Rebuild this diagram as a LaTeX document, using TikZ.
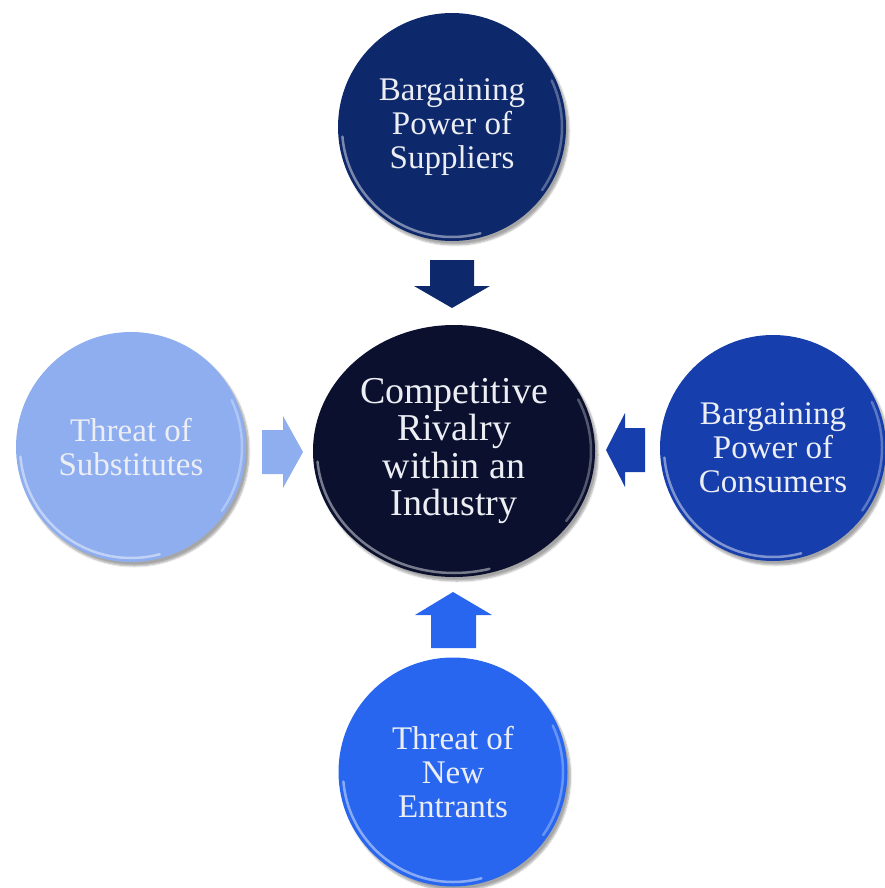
\documentclass[tikz,border=0pt]{standalone}
\usepackage{fontspec}
\setmainfont{Liberation Serif}
\usetikzlibrary{shapes.geometric,shadows.blur}
\definecolor{supcol}{RGB}{14,40,108}
\definecolor{corecol}{RGB}{10,16,46}
\definecolor{subcol}{RGB}{142,174,240}
\definecolor{concol}{RGB}{22,62,172}
\definecolor{entcol}{RGB}{40,102,240}
\definecolor{txtcol}{RGB}{236,238,244}
\tikzset{
  ball/.style={circle,minimum size=#1,inner sep=0pt,align=center,text=txtcol,
    font=\fontsize{33}{34}\selectfont,
    blur shadow={shadow xshift=3pt,shadow yshift=-4pt,shadow blur steps=6,shadow opacity=35}},
  core/.style={ellipse,minimum width=282,minimum height=252,inner sep=0pt,align=center,
    text=txtcol,font=\fontsize{38}{37.5}\selectfont,
    blur shadow={shadow xshift=3pt,shadow yshift=-4pt,shadow blur steps=6,shadow opacity=35}},
  rim/.style={white,line width=2.5pt,opacity=0.45,line cap=round},
}
\begin{document}
\begin{tikzpicture}[x=1pt,y=1pt]
\useasboundingbox (0,0) rectangle (885,-888);
% the five balls
\node[ball=228,fill=supcol] (sup) at (452,-127) {Bargaining\\Power of\\Suppliers};
\node[core,fill=corecol] (core) at (454,-451) {Competitive\\Rivalry\\within an\\Industry};
\node[ball=230,fill=subcol] (sub) at (131,-447) {Threat of\\Substitutes};
\node[ball=226,fill=concol] (con) at (773,-448) {Bargaining\\Power of\\Consumers};
\node[ball=229,fill=entcol] (ent) at (453,-772) {Threat of\\New\\Entrants};
% glossy rims
\draw[rim] ([shift={(185:110)}]sup.center) arc (185:285:110);
\draw[rim] ([shift={(185:111)}]sub.center) arc (185:285:111);
\draw[rim] ([shift={(185:109)}]con.center) arc (185:285:109);
\draw[rim] ([shift={(185:110)}]ent.center) arc (185:285:110);
\draw[rim] ([shift={(185:137 and 122)}]core.center) arc [start angle=185,end angle=285,x radius=137,y radius=122];
\draw[rim,opacity=0.3] ([shift={(-35:110)}]sup.center) arc (-35:25:110);
\draw[rim,opacity=0.3] ([shift={(-35:111)}]sub.center) arc (-35:25:111);
\draw[rim,opacity=0.3] ([shift={(-35:109)}]con.center) arc (-35:25:109);
\draw[rim,opacity=0.3] ([shift={(-35:110)}]ent.center) arc (-35:25:110);
\draw[rim,opacity=0.3] ([shift={(-35:137 and 122)}]core.center) arc [start angle=-35,end angle=25,x radius=137,y radius=122];
% block arrows
\fill[supcol] (430,-260) -- (474,-260) -- (474,-286) -- (490,-286) -- (452,-308)
  -- (414,-286) -- (430,-286) -- cycle;
\fill[subcol] (262,-430) -- (283,-430) -- (283,-416) -- (303,-452) -- (283,-488)
  -- (283,-474) -- (262,-474) -- cycle;
\fill[concol] (645,-428) -- (625,-428) -- (625,-413) -- (606,-450) -- (625,-487)
  -- (625,-472) -- (645,-472) -- cycle;
\fill[entcol] (431,-648) -- (476,-648) -- (476,-615) -- (492,-615) -- (453,-592)
  -- (415,-615) -- (431,-615) -- cycle;
\end{tikzpicture}
\end{document}
